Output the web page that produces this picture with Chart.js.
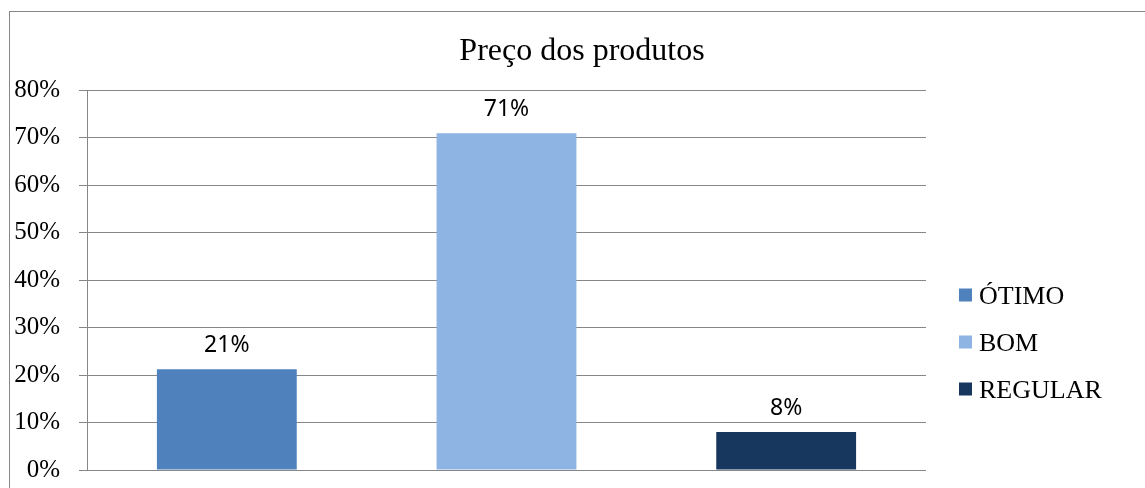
<!DOCTYPE html>
<html lang="pt">
<head>
    <meta charset="UTF-8">
    <title>Preço dos produtos</title>
    <script src="https://cdn.jsdelivr.net/npm/chart.js"></script>
    <style>
        html, body { margin: 0; padding: 0; background: #fff; }
        #wrap { width: 1145px; height: 488px; }
    </style>
</head>
<body>
    <div id="wrap"><canvas id="grafico"></canvas></div>

    <script>
        // Dados
        var titulo = 'Preço dos produtos';
        var series = ['ÓTIMO', 'BOM', 'REGULAR'];
        var valores = [21.2, 70.9, 8.0];
        var cores = ['#4F81BD', '#8EB4E3', '#17375E'];
        var ticksY = [0, 10, 20, 30, 40, 50, 60, 70, 80];

        var cinza = '#878787';
        var serif = '"Liberation Serif", "Times New Roman", serif';

        var datasets = [];
        for (var i = 0; i < series.length; i++) {
            datasets.push({
                label: series[i],
                data: [valores[i]],
                backgroundColor: cores[i],
                borderWidth: 0
            });
        }

        // Moldura, título, rótulos e legenda desenhados à mão
        var extras = {
            id: 'extras',
            beforeDraw: function(chart) {
                var ctx = chart.ctx;
                ctx.save();
                ctx.strokeStyle = cinza;
                ctx.lineWidth = 1;
                ctx.strokeRect(9.5, 11.5, 2000, 2000);
                ctx.restore();
            },
            afterDatasetsDraw: function(chart) {
                var ctx = chart.ctx;
                ctx.save();
                ctx.fillStyle = '#000';
                ctx.font = '23px "Noto Sans", sans-serif';
                ctx.textAlign = 'center';
                ctx.textBaseline = 'alphabetic';
                chart.data.datasets.forEach(function(ds, i) {
                    var bar = chart.getDatasetMeta(i).data[0];
                    ctx.fillText(Math.round(ds.data[0]) + '%', bar.x, bar.y - 17);
                });

                // título
                ctx.font = '32px ' + serif;
                ctx.fillText(titulo, 582, 60);

                // legenda
                ctx.textAlign = 'left';
                ctx.font = '26px ' + serif;
                chart.data.datasets.forEach(function(ds, i) {
                    var cy = 295 + i * 47;
                    ctx.fillStyle = ds.backgroundColor;
                    ctx.fillRect(959, cy - 6.5, 13, 13);
                    ctx.fillStyle = '#000';
                    ctx.fillText(ds.label, 979, cy + 9);
                });
                ctx.restore();
            }
        };

        var ctx = document.getElementById('grafico').getContext('2d');
        var grafico = new Chart(ctx, {
            type: 'bar',
            data: {
                labels: [''],
                datasets: datasets
            },
            options: {
                responsive: true,
                maintainAspectRatio: false,
                animation: false,
                layout: {
                    padding: { left: 0, top: 90, right: 219, bottom: 18 }
                },
                datasets: {
                    bar: { categoryPercentage: 1.0, barPercentage: 0.5 }
                },
                plugins: {
                    legend: { display: false },
                    title: { display: false },
                    tooltip: { enabled: false }
                },
                scales: {
                    x: { display: false },
                    y: {
                        min: 0,
                        max: 80,
                        afterFit: function(scale) {
                            scale.width = 87;
                            scale.paddingTop = 0;
                            scale.paddingBottom = 0;
                        },
                        afterBuildTicks: function(scale) {
                            scale.ticks = ticksY.map(function(v) { return { value: v }; });
                        },
                        border: { display: true, color: cinza, width: 1 },
                        grid: { color: cinza, lineWidth: 1, tickLength: 8, drawTicks: true },
                        ticks: {
                            padding: 19,
                            color: '#000',
                            font: { family: serif, size: 25 },
                            callback: function(v) { return v + '%'; }
                        }
                    }
                }
            },
            plugins: [extras]
        });
    </script>
</body>
</html>
